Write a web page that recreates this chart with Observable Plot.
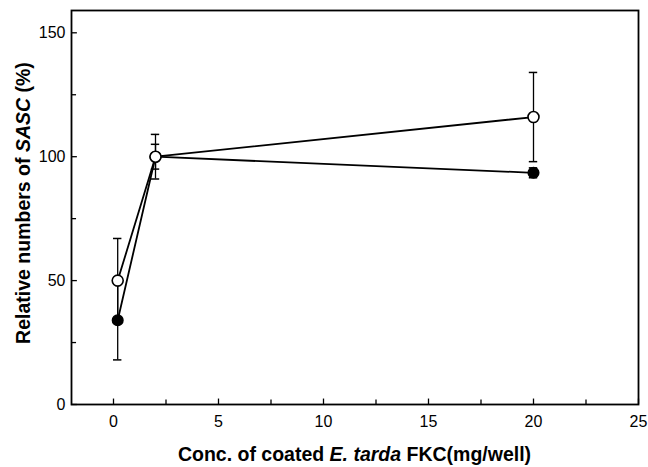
<!DOCTYPE html>
<html><head><meta charset="utf-8">
<script src="https://cdn.jsdelivr.net/npm/d3@7"></script>
<script src="https://cdn.jsdelivr.net/npm/@observablehq/plot@0.6"></script>
<style>body{margin:0;background:#fff} svg{display:block}</style>
</head><body><div id="chart"></div>
<script>
const conc = [0.2, 2, 20];
const openMean = [50, 100, 116];
const openErr = [17, 9, 18];
const filledMean = [34, 100, 93.5];
const filledErr = [16, 5, 2];
const xTicks = [0, 5, 10, 15, 20, 25];
const xMinor = [2.5, 7.5, 12.5, 17.5, 22.5];
const yTicks = [0, 50, 100, 150];
const yMinor = [25, 75, 125];
const xTitle = ["Conc. of coated ", "E. tarda", " FKC(mg/well)"];
const yTitle = ["Relative numbers of ", "SASC", " (%)"];

const openRows = conc.map((c, i) => ({x: c, y: openMean[i], e: openErr[i]}));
const filledRows = conc.map((c, i) => ({x: c, y: filledMean[i], e: filledErr[i]}));

const W = 648, H = 467;
const mL = 71, mR = 10, mT = 10, mB = 63;

const errMarks = (rows) => [
  Plot.ruleX(rows, {x: "x", y1: d => d.y - d.e, y2: d => d.y + d.e, stroke: "black", strokeWidth: 1.3}),
  Plot.ruleY(rows, {y: d => d.y + d.e, x1: d => d.x - 0.2, x2: d => d.x + 0.2, stroke: "black", strokeWidth: 1.5}),
  Plot.ruleY(rows, {y: d => d.y - d.e, x1: d => d.x - 0.2, x2: d => d.x + 0.2, stroke: "black", strokeWidth: 1.5})
];

const chart = Plot.plot({
  width: W, height: H,
  marginLeft: mL, marginRight: mR, marginTop: mT, marginBottom: mB,
  style: {fontFamily: "'Liberation Sans', Arial, sans-serif", fontSize: "16px", color: "black", background: "white"},
  x: {domain: [-2, 25], label: null},
  y: {domain: [0, 159], label: null},
  marks: [
    Plot.axisX(xTicks, {tickSize: 0, tickPadding: 11, fontSize: 16}),
    Plot.axisY(yTicks, {tickSize: 0, tickPadding: 6, fontSize: 16}),
    Plot.ruleX(xTicks, {x: d => d, y1: 0, y2: 2.2, stroke: "black", strokeWidth: 1.3}),
    Plot.ruleX(xMinor, {x: d => d, y1: 0, y2: 1.8, stroke: "black", strokeWidth: 1.3}),
    Plot.ruleY(yTicks, {y: d => d, x1: -2, x2: -1.72, stroke: "black", strokeWidth: 1.3}),
    Plot.ruleY(yMinor, {y: d => d, x1: -2, x2: -1.76, stroke: "black", strokeWidth: 1.3}),
    Plot.frame({stroke: "black", strokeWidth: 1.8}),
    Plot.line(filledRows, {x: "x", y: "y", stroke: "black", strokeWidth: 1.8}),
    Plot.line(openRows, {x: "x", y: "y", stroke: "black", strokeWidth: 1.8}),
    ...errMarks(filledRows),
    ...errMarks(openRows),
    Plot.dot(filledRows, {x: "x", y: "y", r: 5.3, fill: "black", stroke: "black"}),
    Plot.dot(openRows, {x: "x", y: "y", r: 5.5, fill: "white", stroke: "black", strokeWidth: 1.6})
  ]
});

const svg = d3.select(chart);
const font = "'Liberation Sans', Arial, sans-serif";
const xt = svg.append("text")
  .attr("x", mL + (W - mL - mR) / 2).attr("y", 461)
  .attr("text-anchor", "middle").attr("font-family", font)
  .attr("font-size", 19.5).attr("font-weight", "bold").attr("fill", "black");
xTitle.forEach((s, i) => xt.append("tspan").attr("font-style", i === 1 ? "italic" : "normal").text(s));
const yt = svg.append("text")
  .attr("transform", `translate(30,203) rotate(-90)`)
  .attr("text-anchor", "middle").attr("font-family", font)
  .attr("font-size", 19.5).attr("font-weight", "bold").attr("fill", "black");
yTitle.forEach((s, i) => yt.append("tspan").attr("font-style", i === 1 ? "italic" : "normal").text(s));

document.getElementById("chart").appendChild(chart);
</script>
</body></html>
